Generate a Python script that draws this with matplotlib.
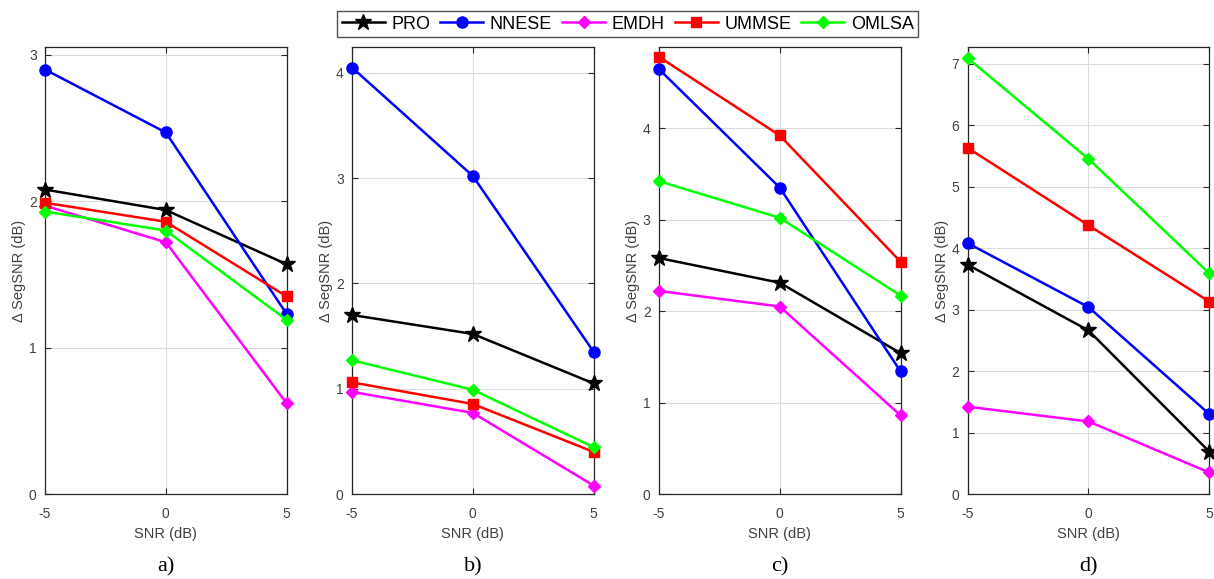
import numpy as np
import matplotlib
matplotlib.use('Agg')
import matplotlib.pyplot as plt

plt.rcParams['font.family'] = ['Liberation Sans', 'DejaVu Sans']

# SNR points
snr = [-5, 0, 5]
methods = ['PRO', 'NNESE', 'EMDH', 'UMMSE', 'OMLSA']

# delta SegSNR per panel, one list per method
pro_a = [2.08, 1.94, 1.57]
nnese_a = [2.90, 2.47, 1.23]
emdh_a = [1.97, 1.72, 0.62]
ummse_a = [1.99, 1.86, 1.35]
omlsa_a = [1.93, 1.80, 1.19]

pro_b = [1.70, 1.52, 1.05]
nnese_b = [4.05, 3.02, 1.35]
emdh_b = [0.97, 0.77, 0.08]
ummse_b = [1.06, 0.855, 0.40]
omlsa_b = [1.27, 0.99, 0.445]

pro_c = [2.58, 2.31, 1.54]
nnese_c = [4.645, 3.35, 1.34]
emdh_c = [2.22, 2.05, 0.86]
ummse_c = [4.78, 3.92, 2.54]
omlsa_c = [3.42, 3.02, 2.17]

pro_d = [3.73, 2.66, 0.69]
nnese_d = [4.08, 3.04, 1.30]
emdh_d = [1.42, 1.18, 0.35]
ummse_d = [5.63, 4.37, 3.13]
omlsa_d = [7.09, 5.45, 3.59]

panels = [
    ('a)', [pro_a, nnese_a, emdh_a, ummse_a, omlsa_a], 3.054, [0, 1, 2, 3]),
    ('b)', [pro_b, nnese_b, emdh_b, ummse_b, omlsa_b], 4.245, [0, 1, 2, 3, 4]),
    ('c)', [pro_c, nnese_c, emdh_c, ummse_c, omlsa_c], 4.887, [0, 1, 2, 3, 4]),
    ('d)', [pro_d, nnese_d, emdh_d, ummse_d, omlsa_d], 7.27, [0, 1, 2, 3, 4, 5, 6, 7]),
]

# style of each method: color, marker, marker size
styles = [
    ('#000000', '*', 12),
    ('#0000ff', 'o', 8),
    ('#ff00ff', 'D', 6.5),
    ('#ff0000', 's', 6.5),
    ('#00ff00', 'D', 6.5),
]

# axes boxes in figure fractions [left, bottom, width, height]
lefts = [0.0371, 0.2900, 0.5428, 0.7971]
bottom, width, height = 0.1468, 0.1990, 0.7720

fig = plt.figure(figsize=(12.14, 5.79), dpi=100)
handles = []
for i, (tag, series, ytop, yt) in enumerate(panels):
    ax = fig.add_axes([lefts[i], bottom, width, height])
    for vals, (col, mk, ms), name in zip(series, styles, methods):
        h, = ax.plot(snr, vals, color=col, marker=mk, markersize=ms, lw=1.8,
                     markerfacecolor=col, markeredgecolor=col, clip_on=False,
                     label=name, zorder=3)
        if i == 0:
            handles.append(h)
    ax.set_xlim(-5, 5)
    ax.set_ylim(0, ytop)
    ax.set_xticks([-5, 0, 5])
    ax.set_xticklabels(['-5', '0', '5'])
    ax.set_yticks(yt)
    ax.grid(True, color='#dcdcdc', lw=0.8)
    ax.set_axisbelow(True)
    ax.tick_params(direction='in', top=True, right=True, labelsize=10,
                   colors='#262626', labelcolor='#404040', length=4, width=0.8)
    ax.tick_params(axis='x', pad=9)
    ax.tick_params(axis='y', pad=6)
    for sp in ax.spines.values():
        sp.set_color('#262626')
        sp.set_linewidth(0.9)
    ax.set_xlabel('SNR (dB)', fontsize=10.5, color='#404040', labelpad=5)
    ax.set_ylabel('\u0394 SegSNR (dB)', fontsize=10.5, color='#404040', labelpad=2)
    ax.text(0.5, -0.163, tag, transform=ax.transAxes, ha='center', va='center',
            fontsize=16, family='Liberation Serif')

fig.legend(handles=handles, loc='center', bbox_to_anchor=(0.517, 0.9585), ncol=5,
           fontsize=13, frameon=True, fancybox=False, edgecolor='#262626',
           handlelength=2.4, columnspacing=0.55, handletextpad=0.35,
           borderpad=0.25, borderaxespad=0)

fig.savefig('out.png', dpi=100)
